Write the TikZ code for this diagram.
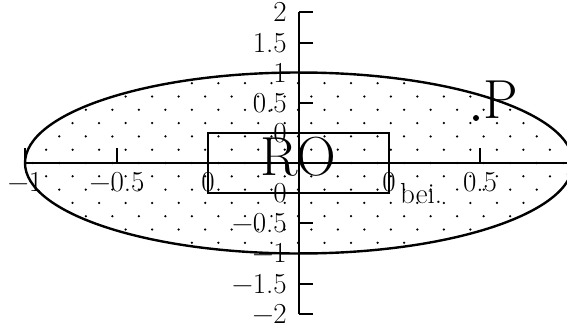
\documentclass[tikz,border=0pt]{standalone}
\usepackage{fontspec}
\begin{document}
\begin{tikzpicture}[x=1pt,y=-1pt,
  axisline/.style={line width=1.8pt},
  tickline/.style={line width=1.5pt},
  ellline/.style={line width=2.4pt},
  lab/.style={inner sep=0pt,font=\fontsize{29}{32}\selectfont},
  big/.style={inner sep=0pt,font=\fontsize{55}{60}\selectfont}]
\clip (0,0) rectangle (567,324);
\coordinate (O) at (299,163);
% dotted fill
\begin{scope}
\clip (O) ellipse [x radius=274, y radius=90.5];
\foreach \i in {-11,...,11}{\foreach \j in {-4,...,4}{
  \fill (298+26.52*\i,163+26.6*\j) circle[radius=1.25];
  \fill (298+13.26+26.52*\i,163+13.3+26.6*\j) circle[radius=1.25];}}
\end{scope}
\draw[ellline] (O) ellipse [x radius=274, y radius=90.5];
% axes
\coordinate (xl) at (25,163);
\coordinate (xr) at (571,163);
\coordinate (yt) at (299,12);
\coordinate (yb) at (299,314);
\draw[axisline] (xl) -- (xr);
\draw[axisline] (yt) -- (yb);
% rectangle
\coordinate (r1) at (208,133);
\coordinate (r2) at (389,193);
\draw[axisline] (r1) rectangle (r2);
% vertical ticks and labels
\foreach \y/\t/\n in {12/2/a,43/1.5/b,73/1/c,103/0.5/d,133/0/e,193/0/f,223/−0.5/g,253/−1/h,284/−1.5/i,314/−2/j}{
  \draw[tickline] (299,\y) -- (313,\y);
  \node[lab,anchor=east] (ly\n) at (287,\y) {\t};}
% horizontal ticks and labels
\foreach \x/\t/\n in {25/−1/a,117/−0.5/b,480/0.5/c,571/1/d}{
  \draw[tickline] (\x,163) -- (\x,148);
  \node[lab,anchor=north] (lx\n) at (\x,172) {\t};}
\node[lab,anchor=north] (lxe) at (208,172) {0};
\node[lab,anchor=north] (lxf) at (389,172) {0};
% texts
\node[big,anchor=base] (RO) at (298.5,175) {RO};
\fill (476,118) circle[radius=3];
\node[big,anchor=base west] (P) at (483,118) {P};
\node[lab,anchor=base west] (bei) at (400,203) {bei.};
\end{tikzpicture}
\end{document}
